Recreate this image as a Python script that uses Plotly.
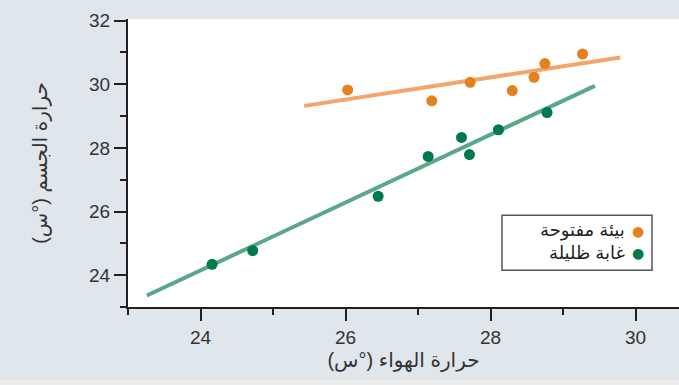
import plotly.graph_objects as go

# Data
open_x = [26.03, 27.19, 27.72, 28.30, 28.60, 28.75, 29.27]
open_y = [29.82, 29.48, 30.06, 29.80, 30.22, 30.65, 30.95]
forest_x = [24.16, 24.72, 26.45, 27.14, 27.60, 27.71, 28.11, 28.78]
forest_y = [24.34, 24.77, 26.48, 27.73, 28.33, 27.79, 28.57, 29.11]

open_fit_x = [25.43, 29.79]
open_fit_y = [29.32, 30.84]
forest_fit_x = [23.26, 29.44]
forest_fit_y = [23.36, 29.95]

x_ticks = [24, 26, 28, 30]
y_ticks = [24, 26, 28, 30, 32]

series_names = ["بيئة مفتوحة", "غابة ظليلة"]
x_title = "\u200fحرارة الهواء (°س)\u200f"
y_title = "\u200fحرارة الجسم (°س)\u200f"

ORANGE = "#e5801f"
ORANGE_LINE = "#f2a66e"
GREEN = "#007a4c"
GREEN_LINE = "#5aa886"
AXIS = "#231f20"
BG = "#dfe6ec"
FONT = "Liberation Sans, Arial, DejaVu Sans, sans-serif"

fig = go.Figure()
fig.add_trace(go.Scatter(x=open_fit_x, y=open_fit_y, mode="lines",
                         line=dict(color=ORANGE_LINE, width=4), showlegend=False, hoverinfo="skip"))
fig.add_trace(go.Scatter(x=forest_fit_x, y=forest_fit_y, mode="lines",
                         line=dict(color=GREEN_LINE, width=4), showlegend=False, hoverinfo="skip"))
fig.add_trace(go.Scatter(x=open_x, y=open_y, mode="markers", name=series_names[0],
                         marker=dict(color=ORANGE, size=11), showlegend=False))
fig.add_trace(go.Scatter(x=forest_x, y=forest_y, mode="markers", name=series_names[1],
                         marker=dict(color=GREEN, size=11), showlegend=False))

axis_common = dict(
    showgrid=False, zeroline=False, showline=True, linecolor=AXIS, linewidth=2,
    ticks="outside", ticklen=12, tickwidth=2, tickcolor=AXIS,
    tickfont=dict(family=FONT, size=19, color="#333333"),
    minor=dict(ticks="outside", ticklen=6, tickwidth=2, tickcolor=AXIS, dtick=1),
    automargin=False,
)

fig.update_xaxes(range=[23.0, 30.6], tickvals=x_ticks, ticktext=[str(v) for v in x_ticks],
                 title=dict(text=x_title, font=dict(family=FONT, size=20, color="#333333"), standoff=6),
                 **axis_common)
fig.update_yaxes(range=[23.0, 32.05], tickvals=y_ticks, ticktext=[str(v) for v in y_ticks],
                 title=dict(text=y_title, font=dict(family=FONT, size=20, color="#333333"), standoff=36),
                 **axis_common)

# Manual right-to-left legend (marker on the right of the label)
fig.add_shape(type="rect", xref="paper", yref="paper",
              x0=(502 - 128) / 551, x1=(652 - 128) / 551,
              y0=(306.7 - 270) / 288, y1=(306.7 - 215) / 288,
              line=dict(color="#555555", width=1.5), fillcolor="white", layer="above")
legend_colors = [ORANGE, GREEN]
legend_rows = [230.5, 252.5]
for name, col, py in zip(series_names, legend_colors, legend_rows):
    yp = (306.7 - py) / 288
    fig.add_annotation(xref="paper", yref="paper", x=(627 - 128) / 551, y=yp,
                       text=name, showarrow=False, xanchor="right", yanchor="middle",
                       font=dict(family=FONT, size=18, color="#231f20"))
    fig.add_annotation(xref="paper", yref="paper", x=(638 - 128) / 551, y=yp,
                       text="●", showarrow=False, xanchor="center", yanchor="middle",
                       font=dict(family="DejaVu Sans", size=14, color=col))

# Light strip at the bottom edge of the panel
fig.add_shape(type="rect", xref="paper", yref="paper", x0=-0.3, x1=1.01,
              y0=(306.7 - 386) / 288, y1=(306.7 - 380) / 288,
              line=dict(width=0), fillcolor="#ececec", layer="below")

fig.update_layout(
    width=679, height=385,
    margin=dict(l=128, r=0, t=19, b=78),
    paper_bgcolor=BG, plot_bgcolor="white",
    font=dict(family=FONT),
    showlegend=False,
)

fig.write_html("out.html", config={"displayModeBar": False},
               post_script="document.body.style.margin='0';document.body.style.overflow='hidden';")
